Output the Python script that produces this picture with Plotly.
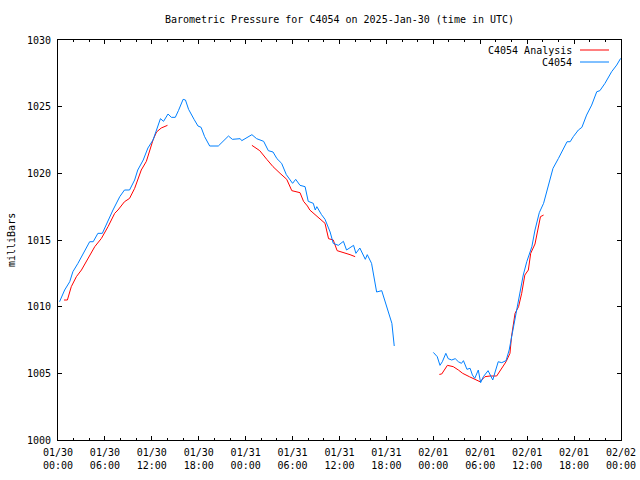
import plotly.graph_objects as go
import pandas as pd

# hours since 2025-01-30 00:00 UTC (None = gap)
station_hours = [0.2, 0.85, 1.5, 1.9, 2.55, 3.2, 4.05, 4.5, 5.1, 5.67, 6.4, 7.03, 7.9, 8.5, 9.15, 9.8,
                 10.2, 10.9, 11.5, 12.15,
                 12.6, 13.1, 13.5, 14.07, 14.5, 15.0, 15.4, 16.0, 16.3, 16.7, 17.4, 17.9, 18.3, 18.75, 19.4,
                 20.5, 21.8, 22.3, 23.3, 23.5, 24.8, 25.4, 26.3, 26.9, 27.5, 28.0, 28.6, 29.2, 30.0, 30.4,
                 30.95, 31.6, 32.0, 32.65, 32.9, 33.1, 33.7, 34.15, 34.8, 35.2, 35.85, 36.5, 36.9, 37.8,
                 38.1, 38.6, 39.3, 39.55, 40.1, 40.4, 40.75, 41.4, 41.8, 42.25, 42.7, 43.0,
                 None,
                 48.0, 48.5, 48.85, 49.15, 49.6, 49.9, 50.35, 50.8, 51.2, 51.6, 51.85, 52.3, 52.7, 53.0,
                 53.3, 53.75, 54.05, 54.4, 55.0, 55.6, 55.9, 56.3, 56.75, 57.3, 57.7, 58.03, 58.45, 58.9,
                 59.5, 59.95, 60.6, 61.0, 61.55, 62.1, 62.7, 63.3, 64.0, 64.55, 65.1, 65.5, 65.9, 66.55,
                 67.0, 67.6, 68.25, 68.9, 69.3, 69.95, 70.8, 71.45, 71.95]
station_mb = [1010.37, 1011.25, 1011.87, 1012.62, 1013.25, 1014.0, 1014.87, 1014.87, 1015.5, 1015.5, 1016.5,
              1017.25, 1018.25, 1018.75, 1018.75, 1019.5,
              1020.25, 1021.0, 1021.9, 1022.5, 1023.25, 1024.1, 1023.9, 1024.45, 1024.2, 1024.2,
              1024.7, 1025.55, 1025.5, 1024.8, 1024.05, 1023.55, 1023.45, 1022.75, 1022.05, 1022.05,
              1022.8, 1022.55, 1022.6, 1022.45, 1022.9, 1022.6, 1022.4, 1021.7, 1021.6, 1021.1, 1020.75,
              1019.9, 1019.25, 1019.55, 1019.1, 1019.0, 1017.9, 1017.75, 1017.25, 1017.5, 1016.9, 1016.55,
              1015.6, 1014.75, 1014.6, 1014.9, 1014.25, 1014.6, 1014.0, 1014.4, 1013.55, 1013.9, 1013.25,
              1012.25, 1011.1, 1011.2, 1010.5, 1009.6, 1008.75, 1007.05,
              None,
              1006.57, 1006.25, 1005.6, 1005.87, 1006.5, 1006.1, 1006.0, 1006.1, 1005.87, 1005.75, 1005.95,
              1005.3, 1005.38, 1004.87, 1004.62, 1005.25, 1004.3, 1004.75, 1005.2, 1004.5, 1005.1, 1005.87,
              1005.8, 1005.95, 1006.75, 1007.75, 1009.0, 1010.5, 1012.37, 1013.37, 1014.5, 1015.75,
              1017.05, 1017.75, 1019.0, 1020.37, 1021.12, 1021.75, 1022.37, 1022.37, 1022.75, 1023.25,
              1023.45, 1024.37, 1025.12, 1026.12, 1026.2, 1026.75, 1027.62, 1028.12, 1028.62]

analysis_hours = [0.77, 1.2, 1.7, 2.35, 3.0, 3.85, 4.7, 5.55, 6.4, 7.25, 7.67, 8.5, 9.15, 9.8, 10.2, 10.65,
                  11.3, 11.7, 12.15, 12.6, 13.2, 14.0,
                  None,
                  24.8, 25.8, 26.7, 27.5, 28.4, 29.25, 29.9, 30.95, 31.4, 31.9, 32.2, 32.9, 33.9, 34.15,
                  34.6, 35.2, 35.7, 36.7, 37.35, 38.0,
                  None,
                  48.77, 49.07, 49.8, 50.55, 51.2, 51.75, 52.6, 53.2, 53.97, 54.6, 55.25, 56.1, 56.75,
                  57.3, 57.8, 58.0, 58.45, 58.9, 59.3, 59.7, 60.15, 60.45, 61.0, 61.3, 61.7, 62.1]
analysis_mb = [1010.5, 1010.5, 1011.5, 1012.25, 1012.75, 1013.62, 1014.5, 1015.12, 1016.0, 1017.0, 1017.25,
               1017.87, 1018.12, 1018.87, 1019.5, 1020.25, 1020.9, 1021.6, 1022.5, 1023.1, 1023.4, 1023.6,
               None,
               1022.1, 1021.7, 1021.05, 1020.5, 1020.0, 1019.55, 1018.7, 1018.55, 1017.9, 1017.55, 1017.25,
               1016.9, 1016.4, 1016.25, 1015.1, 1015.0, 1014.2, 1014.05, 1013.9, 1013.75,
               None,
               1004.92, 1004.95, 1005.6, 1005.5, 1005.25, 1005.0, 1004.75, 1004.57, 1004.37, 1004.75,
               1004.8, 1004.8, 1005.38, 1005.87, 1006.5, 1007.75, 1009.5, 1010.0, 1011.0, 1012.37,
               1012.75, 1014.0, 1014.7, 1015.5, 1016.75, 1016.87]

tick_hours = [0, 6, 12, 18, 24, 30, 36, 42, 48, 54, 60, 66, 72]
tick_labels = ["01/30<br>00:00", "01/30<br>06:00", "01/30<br>12:00", "01/30<br>18:00",
               "01/31<br>00:00", "01/31<br>06:00", "01/31<br>12:00", "01/31<br>18:00",
               "02/01<br>00:00", "02/01<br>06:00", "02/01<br>12:00", "02/01<br>18:00",
               "02/02<br>00:00"]

base = pd.Timestamp("2025-01-30 00:00")


def to_time(hours):
    return [None if h is None else base + pd.Timedelta(hours=h) for h in hours]


FONT = "DejaVu Sans Mono"
RED = "#ff0000"
BLUE = "#0080ff"

fig = go.Figure()
fig.add_trace(go.Scatter(x=to_time(analysis_hours), y=analysis_mb, mode="lines", name="C4054 Analysis",
                         line=dict(color=RED, width=1), connectgaps=False, showlegend=False))
fig.add_trace(go.Scatter(x=to_time(station_hours), y=station_mb, mode="lines", name="C4054",
                         line=dict(color=BLUE, width=1), connectgaps=False, showlegend=False))

fig.update_layout(
    width=640, height=480,
    margin=dict(l=58, r=19, t=40, b=40),
    paper_bgcolor="white", plot_bgcolor="white",
    font=dict(family=FONT, size=10, color="black"),
    title=dict(text="Barometric Pressure for C4054 on 2025-Jan-30 (time in UTC)",
               x=0.5, xref="paper", y=1 - 19 / 480, yref="container", yanchor="middle",
               font=dict(family=FONT, size=10, color="black")),
    xaxis=dict(
        type="date",
        automargin=False,
        range=[base, base + pd.Timedelta(hours=72)],
        tickmode="array",
        tickvals=to_time(tick_hours),
        ticktext=tick_labels,
        ticks="inside", ticklen=4, tickcolor="black", tickwidth=1,
        minor=dict(ticks="inside", ticklen=2, tickcolor="black", dtick=2 * 3600 * 1000,
                   tick0=base, showgrid=False),
        showline=True, linecolor="black", linewidth=1, mirror="allticks",
        showgrid=False, zeroline=False,
        ticklabelstandoff=3,
        tickfont=dict(family=FONT, size=10, color="black"),
    ),
    yaxis=dict(
        automargin=False,
        range=[1000, 1030], dtick=5, tick0=1000,
        ticks="inside", ticklen=4, tickcolor="black", tickwidth=1,
        showline=True, linecolor="black", linewidth=1, mirror="allticks",
        showgrid=False, zeroline=False,
        ticklabelstandoff=4,
        tickfont=dict(family=FONT, size=10, color="black"),
    ),
    annotations=[
        dict(text="milliBars", textangle=-90, x=(11 - 58) / 563, y=0.5, xref="paper", yref="paper",
             xanchor="center", yanchor="middle", showarrow=False,
             font=dict(family=FONT, size=10, color="black")),
        dict(text="C4054 Analysis", x=(574 - 58) / 563, y=(440 - 50) / 400, xref="paper", yref="paper",
             xanchor="right", yanchor="middle", showarrow=False,
             font=dict(family=FONT, size=10, color="black")),
        dict(text="C4054", x=(574 - 58) / 563, y=(440 - 62) / 400, xref="paper", yref="paper",
             xanchor="right", yanchor="middle", showarrow=False,
             font=dict(family=FONT, size=10, color="black")),
    ],
    shapes=[
        dict(type="line", xref="paper", yref="paper", x0=(580 - 58) / 563, x1=(609 - 58) / 563,
             y0=(440 - 50) / 400, y1=(440 - 50) / 400, line=dict(color=RED, width=1)),
        dict(type="line", xref="paper", yref="paper", x0=(580 - 58) / 563, x1=(609 - 58) / 563,
             y0=(440 - 62) / 400, y1=(440 - 62) / 400, line=dict(color=BLUE, width=1)),
    ],
)

fig.write_html("out.html", config={"displayModeBar": False},
               post_script="document.body.style.margin='0';document.body.style.padding='0';")
